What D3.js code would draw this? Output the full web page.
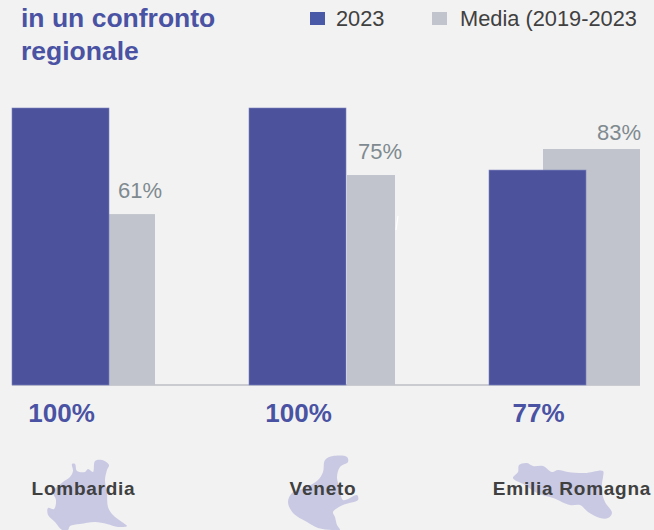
<!DOCTYPE html>
<html>
<head>
<meta charset="utf-8">
<script src="https://cdn.jsdelivr.net/npm/d3@7"></script>
<style>
    html, body { margin: 0; padding: 0; background: #f2f2f2; }
    svg { display: block; font-family: "Liberation Sans", Arial, sans-serif; }
</style>
</head>
<body>
<svg id="drawing_region"></svg>
<script>
const regions = ["Lombardia", "Veneto", "Emilia Romagna"];
const values2023 = [100, 100, 77.6];
const valuesMedia = [61.7, 75.8, 85.2];
const labels2023 = ["100%", "100%", "77%"];
const labelsMedia = ["61%", "75%", "83%"];
const titleLines = ["in un confronto", "regionale"];
const legendLabels = ["2023", "Media (2019-2023)"];

// region silhouettes, traced by eye
const shapeLombardia = [[72,464],[75,464],[77,471],[85,472],[88,469],[93,472],[95,461],[102,460],[109,465],[107,470],[105,480],[107,493],[108,507],[113,515],[122,522],[127,526],[118,527],[107,524],[95,522],[80,524],[70,526],[68,530],[62,530],[55,522],[48,515],[48,508],[54,509],[56,500],[53,492],[63,482],[70,477],[73,471]];
const shapeVeneto = [[325,460],[333,456],[347,457],[348,462],[340,467],[337,478],[340,488],[343,500],[357,495],[358,500],[343,505],[333,512],[335,517],[337,525],[340,530],[332,530],[318,528],[307,522],[293,513],[288,502],[292,493],[305,488],[318,480],[323,472]];
const shapeEmilia = [[519,465],[527,463],[533,466],[543,466],[552,472],[558,470],[568,472],[585,473],[603,471],[603,477],[602,483],[602,492],[605,502],[612,513],[608,518],[600,518],[588,512],[580,505],[570,505],[553,498],[537,493],[525,485],[513,478],[518,472]];
const regionShapes = [shapeLombardia, shapeVeneto, shapeEmilia];

const width = 654, height = 530;
const baseY = 385;
const blue = "#4c529c", grey = "#c1c4cc";

const svg = d3.select("#drawing_region")
    .attr("width", width)
    .attr("height", height);

const y = d3.scaleLinear().domain([0, 100]).range([baseY, 108]);

// groups are not evenly spaced in the original
const x2023 = d3.scaleOrdinal().domain(regions).range([12, 249, 489]);
const xMediaStart = d3.scaleOrdinal().domain(regions).range([109, 347, 543]);
const xMediaEnd = d3.scaleOrdinal().domain(regions).range([155, 395, 640]);
const xMediaLabel = d3.scaleOrdinal().domain(regions).range([140, 380, 619]);
const yMediaLabelGap = d3.scaleOrdinal().domain(regions).range([16, 16, 9]);
const xName = d3.scaleOrdinal().domain(regions).range([83.5, 323, 572]);
const barWidth = 97;

svg.append("rect")
    .attr("width", width)
    .attr("height", height)
    .attr("fill", "#f2f2f2");

svg.append("defs").append("clipPath")
    .attr("id", "page_clip")
    .append("rect")
    .attr("width", 636.5)
    .attr("height", height);

// region shapes go under everything else
const line = d3.line().curve(d3.curveCatmullRomClosed);
svg.selectAll("path.region")
    .data(regionShapes)
    .join("path")
    .attr("class", "region")
    .attr("d", d => line(d))
    .attr("fill", "#c9c9e4");

// baseline
svg.append("line")
    .attr("x1", 12)
    .attr("x2", 640)
    .attr("y1", baseY)
    .attr("y2", baseY)
    .attr("stroke", "#c9cbd1")
    .attr("stroke-width", 2);

// media bars first, 2023 overlaps them in the last group
svg.selectAll("rect.media")
    .data(regions)
    .join("rect")
    .attr("class", "media")
    .attr("x", d => xMediaStart(d))
    .attr("y", (d, i) => y(valuesMedia[i]))
    .attr("width", d => xMediaEnd(d) - xMediaStart(d))
    .attr("height", (d, i) => baseY - y(valuesMedia[i]))
    .attr("fill", grey);

svg.selectAll("rect.y2023")
    .data(regions)
    .join("rect")
    .attr("class", "y2023")
    .attr("x", d => x2023(d))
    .attr("y", (d, i) => y(values2023[i]))
    .attr("width", barWidth)
    .attr("height", (d, i) => baseY - y(values2023[i]))
    .attr("fill", blue)
    .attr("stroke", "#7d82bd")
    .attr("stroke-width", 0.6);

// small white nick next to the Veneto bar
svg.append("line")
    .attr("x1", 398)
    .attr("y1", 216)
    .attr("x2", 396)
    .attr("y2", 230)
    .attr("stroke", "#ffffff")
    .attr("stroke-width", 1.2);

svg.selectAll("text.title")
    .data(titleLines)
    .join("text")
    .attr("class", "title")
    .attr("x", 21)
    .attr("y", (d, i) => 27 + i * 33)
    .attr("font-size", 26.5)
    .attr("font-weight", "bold")
    .attr("fill", "#4a52a3")
    .text(d => d);

// legend
const legendX = [310, 432];
const legendColors = ["#4a58a8", grey];
svg.selectAll("rect.legend")
    .data(legendLabels)
    .join("rect")
    .attr("class", "legend")
    .attr("x", (d, i) => legendX[i])
    .attr("y", 12)
    .attr("width", 15)
    .attr("height", 13)
    .attr("fill", (d, i) => legendColors[i]);

svg.append("g")
    .attr("clip-path", "url(#page_clip)")
    .selectAll("text")
    .data(legendLabels)
    .join("text")
    .attr("x", (d, i) => legendX[i] + (i ? 28 : 26))
    .attr("y", 26)
    .attr("font-size", 21.8)
    .attr("fill", "#404040")
    .text(d => d);

// grey value labels above media bars
svg.selectAll("text.media-label")
    .data(regions)
    .join("text")
    .attr("class", "media-label")
    .attr("x", d => xMediaLabel(d))
    .attr("y", (d, i) => y(valuesMedia[i]) - yMediaLabelGap(d))
    .attr("text-anchor", "middle")
    .attr("font-size", 22)
    .attr("fill", "#7f8a90")
    .text((d, i) => labelsMedia[i]);

svg.selectAll("text.big-label")
    .data(regions)
    .join("text")
    .attr("class", "big-label")
    .attr("x", d => x2023(d) + 49.5)
    .attr("y", 422)
    .attr("text-anchor", "middle")
    .attr("font-size", 26)
    .attr("font-weight", "bold")
    .attr("fill", "#4a52a3")
    .text((d, i) => labels2023[i]);

svg.selectAll("text.region-name")
    .data(regions)
    .join("text")
    .attr("class", "region-name")
    .attr("x", d => xName(d))
    .attr("y", 495)
    .attr("text-anchor", "middle")
    .attr("font-size", 19)
    .attr("font-weight", "bold")
    .attr("letter-spacing", 0.75)
    .attr("fill", "#404040")
    .text(d => d);
</script>
</body>
</html>
